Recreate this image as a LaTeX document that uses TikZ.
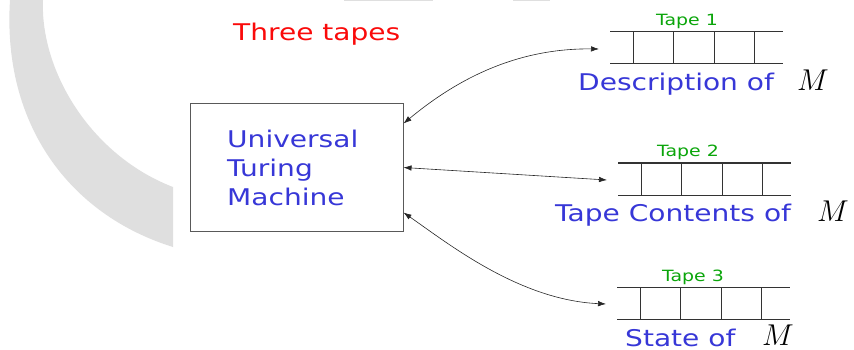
\documentclass[tikz,border=0pt]{standalone}
\usepackage{graphicx}
\usepackage{fontspec}
\setmainfont{DejaVu Sans}[FakeStretch=1.22]
\usetikzlibrary{arrows.meta}
\definecolor{tred}{RGB}{250,10,10}
\definecolor{tblue}{RGB}{55,55,215}
\definecolor{tgreen}{RGB}{10,165,10}
\newcommand{\bigM}{\scalebox{1.21}{$M$}}
\begin{document}
\begin{tikzpicture}[x=1pt,y=-1pt,
  big/.style={inner sep=0pt,anchor=base west,font=\fontsize{23}{29}\selectfont},
  tapelbl/.style={inner sep=0pt,anchor=base,tgreen,font=\fontsize{15.5}{16}\selectfont},
  mlbl/.style={inner sep=0pt,anchor=base west,font=\fontsize{24}{24}\selectfont},
  link/.style={{Latex[length=8pt,width=5.5pt]}-{Latex[length=8pt,width=5.5pt]},black!85,line width=0.6pt}]
  \useasboundingbox (0,0) rectangle (854,350);
  % grey band in the background
  \fill[gray!25] (10,0) .. controls (2,125) and (70,215) .. (173,247) -- (173,187)
    .. controls (90,155) and (40,70) .. (43,0) -- cycle;
  \fill[gray!25] (344,0) rectangle (433,1.5);
  \fill[gray!25] (513,0) rectangle (550,1.5);
  % machine
  \node[draw=black!65,line width=1pt,minimum width=213pt,minimum height=127pt,inner sep=0pt] (utm) at (296.5,167.5) {};
  \node[big,tred] (title) at (233,41) {Three tapes};
  \node[big,tblue,align=left,anchor=north west] (utmtxt) at (227,130) {Universal\\Turing\\Machine};
  % tapes: left end / top / label centre / name
  \foreach \xa/\yt/\xl/\name/\k in {610/32/687/tA/1,618/163/688/tB/2,617/287/693/tC/3} {
    \draw[black!80,line width=1pt] (\xa,\yt) -- ++(173,0) (\xa,\yt+32) -- ++(173,0);
    \foreach \i in {0,...,3} \draw[black!80,line width=1pt] (\xa+23+40.5*\i,\yt) -- ++(0,32);
    \node[tapelbl] (lbl\name) at (\xl,\yt-6) {Tape \k};
    \coordinate (\name) at (\xa-11,\yt+17);
  }
  \node[big,tblue] (descA) at (578,91) {Description of};
  \node[mlbl] (mA) at (797,91) {\bigM};
  \node[big,tblue] (descB) at (555,221) {Tape Contents of};
  \node[mlbl] (mB) at (817,221) {\bigM};
  \node[big,tblue] (descC) at (625,346) {State of};
  \node[mlbl] (mC) at (762,345) {\bigM};
  % connectors
  \coordinate (uA) at ([yshift=44pt]utm.east);
  \coordinate (uC) at ([yshift=-45pt]utm.east);
  \draw[link] (uA) .. controls (450,85) and (510,48) .. (tA);
  \draw[link] (utm.east) -- (tB);
  \draw[link] (uC) .. controls (450,245) and (520,300) .. (tC);
\end{tikzpicture}
\end{document}
